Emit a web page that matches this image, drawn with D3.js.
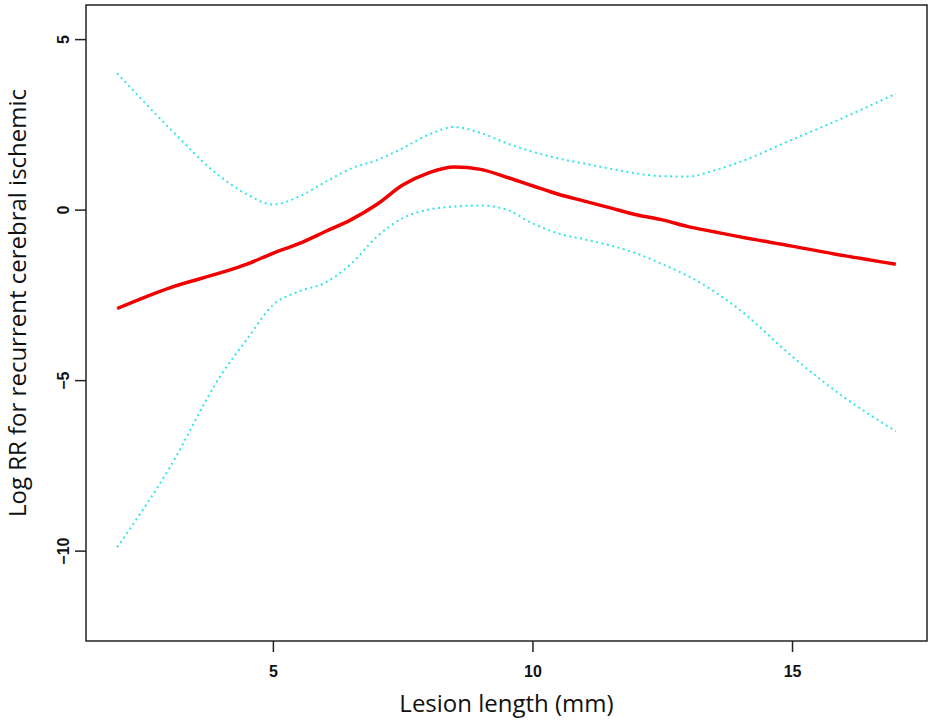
<!DOCTYPE html>
<html>
<head>
<meta charset="utf-8">
<script src="https://cdn.jsdelivr.net/npm/d3@7"></script>
<style>
  body { margin: 0; background: #fff; }
  .tick text { font-family: "Liberation Sans", Arial, sans-serif; font-weight: bold; }
</style>
</head>
<body>
<svg id="chart" width="935" height="726"></svg>
<script>
// lesion length grid (mm)
let lengths = [2, 3, 4, 4.5, 5, 5.5, 6, 6.5, 7, 7.5, 8, 8.5, 9, 9.5, 10, 10.5, 11, 11.5, 12, 12.5, 13, 13.5, 14, 15, 16, 17];

// fitted log RR
let fit = [-2.9, -2.3, -1.85, -1.6, -1.28, -1.0, -0.65, -0.3, 0.15, 0.72, 1.08, 1.25, 1.18, 0.95, 0.7, 0.45, 0.25, 0.05, -0.15, -0.3, -0.5, -0.65, -0.8, -1.07, -1.35, -1.6];

// 95% CI bounds
let upper = [4.0, 2.4, 0.95, 0.45, 0.15, 0.38, 0.8, 1.2, 1.45, 1.8, 2.2, 2.42, 2.25, 1.95, 1.7, 1.5, 1.35, 1.2, 1.06, 0.98, 0.97, 1.15, 1.4, 2.05, 2.7, 3.4];
let lower = [-9.9, -7.6, -4.85, -3.8, -2.8, -2.4, -2.15, -1.6, -0.8, -0.25, 0.0, 0.09, 0.12, 0.0, -0.4, -0.7, -0.87, -1.05, -1.28, -1.6, -1.95, -2.4, -2.95, -4.3, -5.5, -6.5];

let xTicks = [5, 10, 15],
    yTicks = [-10, -5, 0, 5];

let margin = {left: 86, top: 5, right: 8, bottom: 85},
    width = 935 - margin.left - margin.right,
    height = 726 - margin.top - margin.bottom;

let svg = d3.select("#chart");
let g = svg.append("g")
  .attr("transform", `translate(${margin.left},${margin.top})`);

// R style: 4% padding around the data range
let x = d3.scaleLinear().domain([1.4, 17.6]).range([0, width]);
let y = d3.scaleLinear().domain([-12.65, 6.0]).range([height, 0]);

let line = d3.line()
  .curve(d3.curveMonotoneX)
  .x(d => x(d[0]))
  .y(d => y(d[1]));

function series(vals) {
  return lengths.map((l, i) => [l, vals[i]]);
}

g.append("path")
  .datum(series(upper))
  .attr("d", line)
  .attr("fill", "none")
  .attr("stroke", "#33e6e6")
  .attr("stroke-width", 2)
  .attr("stroke-dasharray", "2,3.5");

g.append("path")
  .datum(series(lower))
  .attr("d", line)
  .attr("fill", "none")
  .attr("stroke", "#33e6e6")
  .attr("stroke-width", 2)
  .attr("stroke-dasharray", "2,3.5");

g.append("path")
  .datum(series(fit))
  .attr("d", line)
  .attr("fill", "none")
  .attr("stroke", "#f00000")
  .attr("stroke-width", 3.5);

// box
g.append("rect")
  .attr("width", width)
  .attr("height", height)
  .attr("fill", "none")
  .attr("stroke", "#222")
  .attr("stroke-width", 1.5);

let xAxis = g.append("g")
  .attr("transform", `translate(0,${height})`)
  .call(d3.axisBottom(x).tickValues(xTicks).tickSize(11).tickPadding(14));
xAxis.select(".domain").remove();
xAxis.selectAll(".tick line").attr("stroke", "#222").attr("stroke-width", 1.5);
xAxis.selectAll(".tick text").attr("font-size", 16).attr("fill", "#111");

let yAxis = g.append("g")
  .call(d3.axisLeft(y).tickValues(yTicks).tickSize(11));
yAxis.select(".domain").remove();
yAxis.selectAll(".tick line").attr("stroke", "#222").attr("stroke-width", 1.5);
yAxis.selectAll(".tick text")
  .attr("font-size", 16)
  .attr("fill", "#111")
  .attr("x", null).attr("dy", null)
  .attr("text-anchor", "middle")
  .attr("transform", "translate(-23,0) rotate(-90)")
  .attr("dy", "0.35em");

svg.append("text")
  .attr("x", margin.left + width / 2)
  .attr("y", 712)
  .attr("text-anchor", "middle")
  .attr("font-family", "'Open Sans', sans-serif")
  .attr("font-size", 24)
  .attr("fill", "#111")
  .text("Lesion length (mm)");

svg.append("text")
  .attr("transform", `translate(26,${margin.top + height / 2 - 20}) rotate(-90)`)
  .attr("text-anchor", "middle")
  .attr("font-family", "'Open Sans', sans-serif")
  .attr("font-size", 24)
  .attr("fill", "#111")
  .text("Log RR for recurrent cerebral ischemic");
</script>
</body>
</html>
